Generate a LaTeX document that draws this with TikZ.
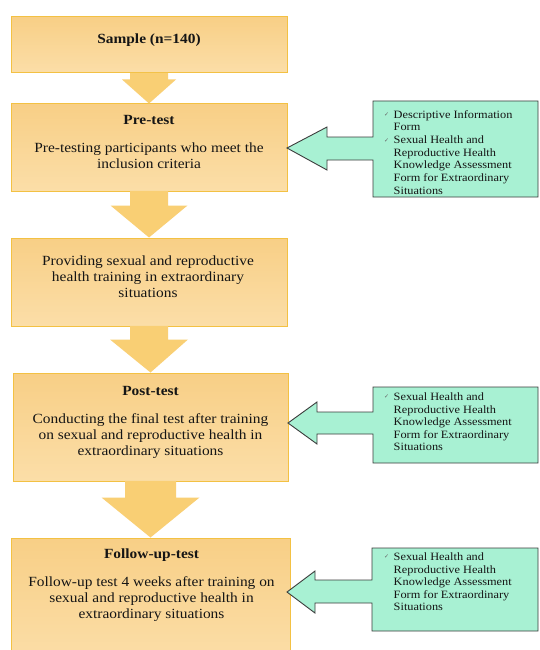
\documentclass[tikz,border=0pt]{standalone}
\usepackage{fontspec}
\setmainfont[FakeStretch=1.1]{Liberation Serif}
\newfontfamily\symfont{DejaVu Sans}
\usetikzlibrary{calc}
\definecolor{boxtop}{HTML}{F8CF86}
\definecolor{boxbot}{HTML}{FBDEA8}
\definecolor{boxline}{HTML}{F3C143}
\definecolor{arrcol}{HTML}{F9CF74}
\definecolor{mint}{HTML}{A8F1D3}
\definecolor{mintline}{HTML}{3C3C3C}
\definecolor{ink}{HTML}{151515}
\newcommand\blockdown[5]{%
  \fill[arrfill] ($(#1.south)+(-#3,-0.6)$) -- ($(#1.south)+(#3,-0.6)$) -- ($(#1.south)+(#3,#5)$) -- ($(#1.south)+(#4,#5)$) -- (#2.north) -- ($(#1.south)+(-#4,#5)$) -- ($(#1.south)+(-#3,#5)$) -- cycle;}
\newcommand\chk{{\symfont\fontsize{6}{6}\selectfont\textcolor{gray!80!black}{\raisebox{1.5pt}{✓}}}}
\begin{document}
\begin{tikzpicture}[x=1pt,y=-1pt,
  obox/.style={draw=boxline, line width=1pt, top color=boxtop, bottom color=boxbot, inner sep=0pt},
  arrfill/.style={fill=arrcol},
  callout/.style={fill=mint, draw=mintline, line width=0.9pt, line join=miter},
  otext/.style={anchor=base, inner sep=0pt, text=ink, font=\fontsize{14}{16.3}\selectfont},
  gtext/.style={anchor=base west, inner sep=0pt, text=ink, font=\fontsize{11.2}{12.6}\selectfont}]
\useasboundingbox (0,0) rectangle (539,650);
\clip (0,0) rectangle (539,650);
\fill[white] (0,0) rectangle (539,650);

% boxes
\node[obox, minimum width=276pt, minimum height=56pt] (sample) at (149,45) {};
\node[obox, minimum width=276pt, minimum height=87pt] (pretest) at (149,147.5) {};
\node[obox, minimum width=276pt, minimum height=88pt] (training) at (149,282) {};
\node[obox, minimum width=275pt, minimum height=108pt] (posttest) at (150.5,427) {};
\node[obox, minimum width=279pt, minimum height=124pt] (followup) at (150.5,600) {};

% block arrows
\blockdown{sample}{pretest}{19}{27}{6}
\blockdown{pretest}{training}{19}{38.5}{14}
\blockdown{training}{posttest}{19}{39}{13}
\blockdown{posttest}{followup}{25.5}{49}{16}

% texts in boxes
\node[otext] (t1) at (149,43.3) {\begin{tabular}[t]{@{}c@{}}\textbf{Sample (n=140)}\end{tabular}};
\node[otext] (t2) at (149,124.3) {\begin{tabular}[t]{@{}c@{}}\textbf{Pre-test}\\[11.7pt]
Pre-testing participants who meet the\\ inclusion criteria\end{tabular}};
\node[otext] (t3) at (148,265.3) {\begin{tabular}[t]{@{}c@{}}Providing sexual and reproductive\\
health training in extraordinary\\ situations\end{tabular}};
\node[otext] (t4) at (150.5,395.3) {\begin{tabular}[t]{@{}c@{}}\textbf{Post-test}\\[11.7pt]
Conducting the final test after training\\ on sexual and reproductive health in\\ extraordinary situations\end{tabular}};
\node[otext] (t5) at (151.5,558.3) {\begin{tabular}[t]{@{}c@{}}\textbf{Follow-up-test}\\[11.7pt]
Follow-up test 4 weeks after training on\\ sexual and reproductive health in\\ extraordinary situations\end{tabular}};

% callouts
\coordinate (c1) at (287,148);
\coordinate (c2) at (288,423);
\coordinate (c3) at (287,592);
\filldraw[callout] (373,101) -- (538,101) -- (538,197) -- (373,197) -- (373,160) -- (327,160) -- (327,170) -- (c1) -- (327,127) -- (327,137) -- (373,137) -- cycle;
\filldraw[callout] (373,387) -- (538,387) -- (538,463) -- (373,463) -- (373,434) -- (317,434) -- (317,444) -- (c2) -- (317,402) -- (317,412) -- (373,412) -- cycle;
\filldraw[callout] (372,548) -- (538,548) -- (538,631) -- (372,631) -- (372,603) -- (315,603) -- (315,613) -- (c3) -- (315,571) -- (315,580) -- (372,580) -- cycle;

\node[gtext] (g1) at (384,118.4) {\begin{tabular}[t]{@{}l@{\hspace{4.5pt}}l@{}}
\chk & Descriptive Information\\
 & Form\\
\chk & Sexual Health and\\
 & Reproductive Health\\
 & Knowledge Assessment\\
 & Form for Extraordinary\\
 & Situations\end{tabular}};
\node[gtext] (g2) at (384,400.4) {\begin{tabular}[t]{@{}l@{\hspace{4.5pt}}l@{}}
\chk & Sexual Health and\\
 & Reproductive Health\\
 & Knowledge Assessment\\
 & Form for Extraordinary\\
 & Situations\end{tabular}};
\node[gtext] (g3) at (384,560.4) {\begin{tabular}[t]{@{}l@{\hspace{4.5pt}}l@{}}
\chk & Sexual Health and\\
 & Reproductive Health\\
 & Knowledge Assessment\\
 & Form for Extraordinary\\
 & Situations\end{tabular}};
\end{tikzpicture}
\end{document}
